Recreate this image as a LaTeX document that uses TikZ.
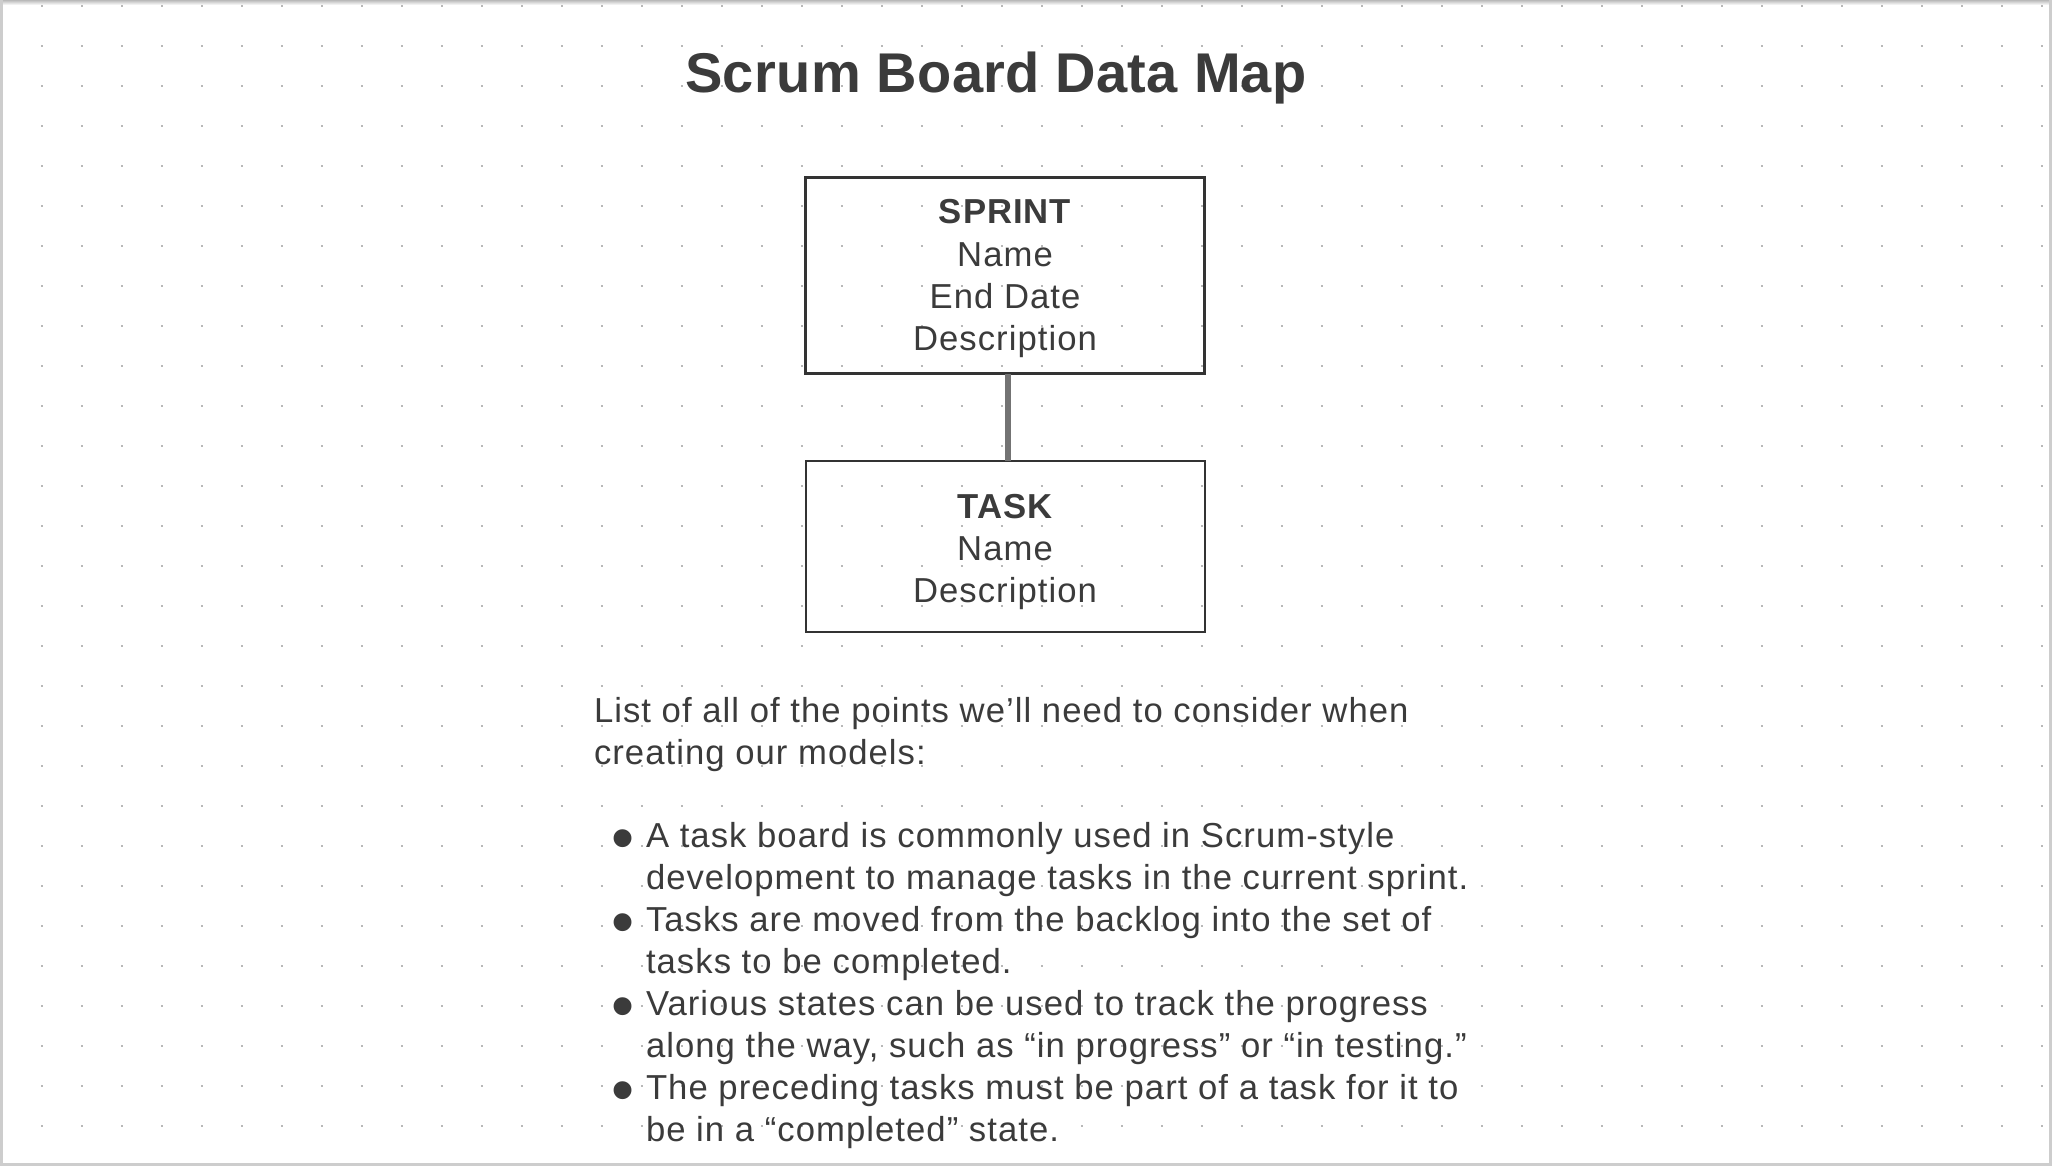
\documentclass[tikz,border=0pt]{standalone}
\usepackage{fontspec}
\setmainfont{Liberation Sans}[LetterSpace=3.0]
\newfontfamily\titlefont{Liberation Sans}[LetterSpace=0.6]
\newfontfamily\bulletfont{Liberation Sans}
\definecolor{ink}{HTML}{3B3B3B}
\definecolor{dotc}{HTML}{B8B8B8}
\definecolor{edgec}{HTML}{333333}
\definecolor{connc}{HTML}{737373}
\definecolor{framec}{HTML}{CDCDCD}
\newcommand{\bul}{\raisebox{-13pt}{\scalebox{1.9}{\bulletfont •}}}
\begin{document}
\begin{tikzpicture}[x=1pt,y=-1pt,
  txt/.style={font=\fontsize{34.67}{42}\selectfont, text=ink, inner sep=0pt, outer sep=0pt, anchor=base},
  para/.style={txt, anchor=base west},
  titlestyle/.style={font=\fontsize{56}{67}\selectfont\titlefont\bfseries, text=ink, inner sep=0pt, anchor=base},
  entity/.style={draw=edgec, minimum width=399pt, inner sep=0pt, outer sep=0pt},
  conn/.style={draw=connc, line width=6pt}]
\useasboundingbox (0,0) rectangle (2052,1166);
\fill[white] (0,0) rectangle (2052,1166);
% dot grid
\foreach \i in {0,...,50}{\foreach \j in {0,...,28}{\fill[dotc] (41+40*\i,5+40*\j) rectangle ++(2,2);}}
% frame
\shade[top color=gray!55, bottom color=white] (0,0) rectangle (2052,5);
\fill[framec] (0,0) rectangle (3,1166);
\fill[framec] (2049,0) rectangle (2052,1166);
\fill[framec] (0,1163) rectangle (2052,1166);
% title
\node[titlestyle] (title) at (996,93) {Scrum Board Data Map};
% entities
\node[entity, line width=3.3pt, minimum height=196pt] (sprint) at (1005,275.5) {};
\node[entity, line width=2pt, minimum height=171pt] (task) at (1005,546.7) {};
\draw[conn] ([xshift=3pt]sprint.south) -- ([xshift=3pt]task.north);
\node[txt] (s1) at (1005,224) {\bfseries SPRINT};
\node[txt] (s2) at (1005,266) {Name};
\node[txt] (s3) at (1005,308) {End Date};
\node[txt] (s4) at (1005,350) {Description};
\node[txt] (t1) at (1005,518) {\bfseries TASK};
\node[txt] (t2) at (1005,560) {Name};
\node[txt] (t3) at (1005,602) {Description};
% notes
\node[para] (p1) at (594,722.5) {List of all of the points we’ll need to consider when};
\node[para] (p2) at (594,764.3) {creating our models:};
\node[txt] (b1) at (623,847.3) {\bul};
\node[para] (l1) at (646,847.3) {A task board is commonly used in Scrum-style};
\node[para] (l2) at (646,889.3) {development to manage tasks in the current sprint.};
\node[txt] (b2) at (623,931.3) {\bul};
\node[para] (l3) at (646,931.3) {Tasks are moved from the backlog into the set of};
\node[para] (l4) at (646,973.3) {tasks to be completed.};
\node[txt] (b3) at (623,1015.3) {\bul};
\node[para] (l5) at (646,1015.3) {Various states can be used to track the progress};
\node[para] (l6) at (646,1057.3) {along the way, such as “in progress” or “in testing.”};
\node[txt] (b4) at (623,1099.3) {\bul};
\node[para] (l7) at (646,1099.3) {The preceding tasks must be part of a task for it to};
\node[para] (l8) at (646,1141.3) {be in a “completed” state.};
\end{tikzpicture}
\end{document}
